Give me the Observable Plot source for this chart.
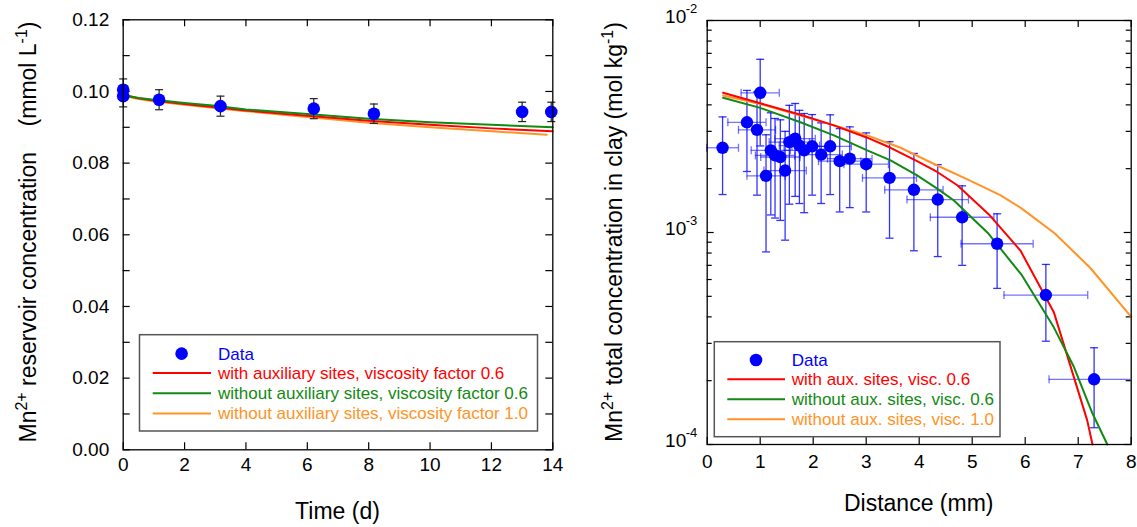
<!DOCTYPE html>
<html><head><meta charset="utf-8">
<script src="https://cdn.jsdelivr.net/npm/d3@7"></script>
<script src="https://cdn.jsdelivr.net/npm/@observablehq/plot@0.6"></script>
<style>
body{margin:0;background:#fff;}
#wrap{position:relative;width:1137px;height:527px;font-family:"Liberation Sans",Arial,Helvetica,sans-serif;}
#wrap svg{position:absolute;top:0;overflow:visible;}
</style></head><body><div id="wrap"></div>
<script>
// ---------- Left panel: reservoir concentration vs time ----------
const timeData = [0, 0, 1.17, 3.17, 6.21, 8.17, 13.0, 13.95];
const resData  = [0.1005, 0.0987, 0.0977, 0.0959, 0.0952, 0.0938, 0.0943, 0.0943];
const resErr   = [0.0030, 0.0030, 0.0028, 0.0028, 0.0028, 0.0027, 0.0027, 0.0027];
const timeModel = [0, 0.5, 1, 2, 3, 4, 6, 8, 10, 12, 14];
const resWithAux06 = [0.0990, 0.0981, 0.0975, 0.0965, 0.0956, 0.0947, 0.0932, 0.0918, 0.0907, 0.0897, 0.0889];
const resNoAux06   = [0.0990, 0.0982, 0.0977, 0.0968, 0.0960, 0.0950, 0.0937, 0.0924, 0.0914, 0.0907, 0.0900];
const timeModelV10 = [0, 0.5, 1, 2, 3, 4, 6, 8, 10, 12, 13.8];
const resNoAux10   = [0.0988, 0.0979, 0.0973, 0.0963, 0.0954, 0.0945, 0.0929, 0.0913, 0.0900, 0.0889, 0.0879];
const xTicksL = [0, 2, 4, 6, 8, 10, 12, 14];
const yTicksL = [0, 0.02, 0.04, 0.06, 0.08, 0.10, 0.12];
const yMinorL = [0.01, 0.03, 0.05, 0.07, 0.09, 0.11];

// ---------- Right panel: concentration in clay vs distance ----------
const distData = [0.29, 0.75, 0.94, 1.0, 1.11, 1.20, 1.28, 1.38, 1.47, 1.55, 1.66, 1.74, 1.83, 1.98, 2.15, 2.32, 2.50, 2.69, 3.0, 3.44, 3.90, 4.35, 4.81, 5.47, 6.39, 7.30];
const concData = [2.51e-3, 3.31e-3, 3.05e-3, 4.56e-3, 1.85e-3, 2.44e-3, 2.31e-3, 2.27e-3, 1.96e-3, 2.67e-3, 2.77e-3, 2.57e-3, 2.44e-3, 2.55e-3, 2.33e-3, 2.55e-3, 2.17e-3, 2.23e-3, 2.10e-3, 1.81e-3, 1.59e-3, 1.43e-3, 1.18e-3, 8.85e-4, 5.07e-4, 2.03e-4];
const concErr  = [1.0e-3, 1.37e-3, 1.55e-3, 2.0e-3, 1.04e-3, 1.23e-3, 1.14e-3, 1.13e-3, 1.04e-3, 1.31e-3, 1.29e-3, 1.2e-3, 1.2e-3, 1.05e-3, 0.96e-3, 1.04e-3, 0.92e-3, 0.92e-3, 0.85e-3, 0.87e-3, 0.77e-3, 0.66e-3, 0.48e-3, 0.34e-3, 0.2e-3, 0.083e-3];
const distErr  = [0.3, 0.36, 0.35, 0.36, 0.36, 0.37, 0.37, 0.37, 0.40, 0.38, 0.38, 0.38, 0.38, 0.38, 0.4, 0.4, 0.4, 0.42, 0.42, 0.51, 0.55, 0.58, 0.6, 0.68, 0.79, 0.85];
const distWithAux06 = [0.3, 1.0, 1.76, 2.39, 3.02, 3.46, 3.96, 4.34, 4.72, 5.31, 5.91, 6.54, 7.17, 7.27];
const concWithAux06 = [4.56e-3, 4.07e-3, 3.59e-3, 3.20e-3, 2.80e-3, 2.51e-3, 2.17e-3, 1.93e-3, 1.67e-3, 1.22e-3, 8.22e-4, 4.21e-4, 1.30e-4, 1.0e-4];
const distNoAux06 = [0.3, 1.0, 1.76, 2.39, 3.02, 3.46, 3.96, 4.34, 4.65, 5.31, 5.94, 6.54, 6.92, 7.27, 7.55];
const concNoAux06 = [4.32e-3, 3.87e-3, 3.31e-3, 2.87e-3, 2.44e-3, 2.19e-3, 1.86e-3, 1.61e-3, 1.42e-3, 9.86e-4, 6.27e-4, 3.57e-4, 2.32e-4, 1.40e-4, 1.0e-4];
const distNoAux10 = [0.3, 1.0, 1.76, 2.51, 3.02, 3.65, 4.27, 4.91, 5.53, 5.93, 6.56, 7.23, 8.0];
const concNoAux10 = [4.43e-3, 4.04e-3, 3.56e-3, 3.14e-3, 2.87e-3, 2.51e-3, 2.11e-3, 1.78e-3, 1.50e-3, 1.30e-3, 9.9e-4, 6.8e-4, 4.0e-4];
const xTicksR = [0, 1, 2, 3, 4, 5, 6, 7, 8];
const yTicksR = [1e-4, 1e-3, 1e-2];
const yTickExp = ["-4", "-3", "-2"];
const yMinorR = [2e-4,3e-4,4e-4,5e-4,6e-4,7e-4,8e-4,9e-4,2e-3,3e-3,4e-3,5e-3,6e-3,7e-3,8e-3,9e-3];

const legendLeft  = ["Data", "with auxiliary sites, viscosity factor 0.6", "without auxiliary sites, viscosity factor 0.6", "without auxiliary sites, viscosity factor 1.0"];
const legendRight = ["Data", "with aux. sites, visc. 0.6", "without aux. sites, visc. 0.6", "without aux. sites, visc. 1.0"];

const BLUE = "#0000ff", RED = "#ff0000", GREEN = "#128a12", ORANGE = "#ff9326";
const FONT = '"Liberation Sans", Arial, Helvetica, sans-serif';

const capH = {draw(ctx, size){ const r = Math.sqrt(size/Math.PI); ctx.moveTo(-r,0); ctx.lineTo(r,0);} };
const capV = {draw(ctx, size){ const r = Math.sqrt(size/Math.PI); ctx.moveTo(0,-r); ctx.lineTo(0,r);} };

const zip2 = (xs, ys) => xs.map((x,i) => ({x, y: ys[i]}));
const resPts = timeData.map((t,i) => ({x: t, y: resData[i], lo: resData[i]-resErr[i], hi: resData[i]+resErr[i]}));
const clayPts = distData.map((d,i) => ({x: d, y: concData[i], lo: concData[i]-concErr[i], hi: concData[i]+concErr[i], xlo: d-distErr[i], xhi: Math.min(8, d+distErr[i])}));

function ticks(frameW, frameH, xs, ys, yMinor, len, minLen){
  return [
    Plot.ruleX(xs, {x: d=>d, insetTop: frameH-len, stroke:"#000", strokeWidth:1.2}),
    Plot.ruleX(xs, {x: d=>d, insetBottom: frameH-len, stroke:"#000", strokeWidth:1.2}),
    Plot.ruleY(ys, {y: d=>d, insetRight: frameW-len, stroke:"#000", strokeWidth:1.2}),
    Plot.ruleY(ys, {y: d=>d, insetLeft: frameW-len, stroke:"#000", strokeWidth:1.2}),
    Plot.ruleY(yMinor, {y: d=>d, insetRight: frameW-minLen, stroke:"#000", strokeWidth:1.2}),
    Plot.ruleY(yMinor, {y: d=>d, insetLeft: frameW-minLen, stroke:"#000", strokeWidth:1.2})
  ];
}

// Left plot geometry
const L = {w: 570, h: 527, ml: 122.7, mr: 17.7, mt: 19.3, mb: 77.7};
const LfW = L.w - L.ml - L.mr, LfH = L.h - L.mt - L.mb;
const left = Plot.plot({
  width: L.w, height: L.h,
  marginLeft: L.ml, marginRight: L.mr, marginTop: L.mt, marginBottom: L.mb,
  x: {domain: [0, 14], axis: null},
  y: {domain: [0, 0.12], axis: null},
  style: {fontFamily: FONT, fontSize: "19px", color: "#000", background: "transparent", overflow: "visible"},
  marks: [
    ...ticks(LfW, LfH, xTicksL, yTicksL, yMinorL, 7, 7),
    Plot.axisX({ticks: xTicksL, tickSize: 0, tickPadding: 8, fontSize: 19, label: null, tickFormat: d => String(d)}),
    Plot.axisY({ticks: yTicksL, tickSize: 0, tickPadding: 14, fontSize: 19, label: null, tickFormat: d => d.toFixed(2)}),
    Plot.line(zip2(timeModelV10, resNoAux10), {x:"x", y:"y", stroke: ORANGE, strokeWidth: 2}),
    Plot.line(zip2(timeModel, resWithAux06), {x:"x", y:"y", stroke: RED, strokeWidth: 2}),
    Plot.line(zip2(timeModel, resNoAux06), {x:"x", y:"y", stroke: GREEN, strokeWidth: 2}),
    Plot.ruleX(resPts, {x:"x", y1:"lo", y2:"hi", stroke:"#222", strokeWidth:1.2}),
    Plot.dot(resPts, {x:"x", y:"lo", symbol: capH, r: 4, stroke:"#222", strokeWidth:1.2, fill:"none"}),
    Plot.dot(resPts, {x:"x", y:"hi", symbol: capH, r: 4, stroke:"#222", strokeWidth:1.2, fill:"none"}),
    Plot.dot(resPts, {x:"x", y:"y", r: 6.3, fill: BLUE, stroke: "none"}),
    Plot.frame({stroke:"#000", strokeWidth: 1.3})
  ]
});

// Right plot geometry
const R = {w: 567, h: 527, ml: 136.7, mr: 6.3, mt: 20, mb: 83};
const RfW = R.w - R.ml - R.mr, RfH = R.h - R.mt - R.mb;
const right = Plot.plot({
  width: R.w, height: R.h,
  marginLeft: R.ml, marginRight: R.mr, marginTop: R.mt, marginBottom: R.mb,
  x: {domain: [0, 8], axis: null},
  y: {type: "log", domain: [1e-4, 1e-2], axis: null},
  style: {fontFamily: FONT, fontSize: "19px", color: "#000", background: "transparent", overflow: "visible"},
  marks: [
    ...ticks(RfW, RfH, xTicksR, yTicksR, yMinorR, 7, 5),
    Plot.axisX({ticks: xTicksR, tickSize: 0, tickPadding: 10, fontSize: 19, label: null, tickFormat: d => String(d)}),
    Plot.text(yTicksR, {y: d=>d, frameAnchor: "left", text: () => "10", textAnchor: "end", dx: -21, dy: -4, fontSize: 19}),
    Plot.text(yTicksR, {y: d=>d, frameAnchor: "left", text: (d,i) => yTickExp[i], textAnchor: "end", dx: -10, dy: -12, fontSize: 13}),
    Plot.ruleY(clayPts, {y:"y", x1:"xlo", x2:"xhi", stroke: BLUE, strokeOpacity: 0.55, strokeWidth: 1.3}),
    Plot.dot(clayPts, {x:"xlo", y:"y", symbol: capV, r: 4, stroke: BLUE, strokeOpacity: 0.55, strokeWidth: 1.3, fill:"none"}),
    Plot.dot(clayPts.filter(d => d.xhi < 8), {x:"xhi", y:"y", symbol: capV, r: 4, stroke: BLUE, strokeOpacity: 0.55, strokeWidth: 1.3, fill:"none"}),
    Plot.ruleX(clayPts, {x:"x", y1:"lo", y2:"hi", stroke: BLUE, strokeOpacity: 0.8, strokeWidth: 1.3}),
    Plot.dot(clayPts, {x:"x", y:"lo", symbol: capH, r: 4, stroke: BLUE, strokeOpacity: 0.8, strokeWidth: 1.3, fill:"none"}),
    Plot.dot(clayPts, {x:"x", y:"hi", symbol: capH, r: 4, stroke: BLUE, strokeOpacity: 0.8, strokeWidth: 1.3, fill:"none"}),
    Plot.line(zip2(distNoAux10, concNoAux10), {x:"x", y:"y", stroke: ORANGE, strokeWidth: 2}),
    Plot.line(zip2(distWithAux06, concWithAux06), {x:"x", y:"y", stroke: RED, strokeWidth: 2}),
    Plot.line(zip2(distNoAux06, concNoAux06), {x:"x", y:"y", stroke: GREEN, strokeWidth: 2}),
    Plot.dot(clayPts, {x:"x", y:"y", r: 6.2, fill: BLUE, stroke: "none"}),
    Plot.frame({stroke:"#000", strokeWidth: 1.3})
  ]
});

const wrap = document.getElementById("wrap");
left.style.left = "0px";
right.style.left = "570px";
wrap.appendChild(left);
wrap.appendChild(right);

function addTitles(svg, xTitle, xCenter, xBase, yParts, yX, yCenter){
  const s = d3.select(svg);
  s.append("text").attr("x", xCenter).attr("y", xBase).attr("text-anchor","middle")
    .attr("font-family", FONT).attr("font-size", 23).attr("fill","#000").text(xTitle);
  const t = s.append("text").attr("transform", `translate(${yX},${yCenter}) rotate(-90)`)
    .attr("text-anchor","middle").attr("font-family", FONT).attr("font-size", 23).attr("fill","#000")
    .style("white-space", "pre");
  yParts.forEach(([txt, sup]) => {
    const ts = t.append("tspan").text(txt);
    if (sup) ts.attr("font-size", 16).attr("dy", -9);
    else ts.attr("dy", ts.node().previousSibling ? 9 : 0);
  });
}
addTitles(left, "Time (d)", L.ml + LfW/2, 519, [["Mn"],["2+",1],[" reservoir concentration    (mmol L"],["-1",1],[")"]], 36.4, 232);
addTitles(right, "Distance (mm)", R.ml + RfW/2, 511, [["Mn"],["2+",1],[" total concentration in clay (mol kg"],["-1",1],[")"]], 52.4, 232);

function addLegend(svg, labels, box, mx, tx, lx1, lx2, rows){
  const s = d3.select(svg).append("g").attr("font-family", FONT).attr("font-size", 17).attr("text-anchor", "start");
  s.append("rect").attr("x", box[0]).attr("y", box[1]).attr("width", box[2]-box[0]).attr("height", box[3]-box[1])
    .attr("fill","#fff").attr("stroke","#555").attr("stroke-width",1.5);
  const cols = [BLUE, RED, GREEN, ORANGE];
  s.append("circle").attr("cx", mx).attr("cy", rows[0]).attr("r", 6.3).attr("fill", BLUE);
  labels.forEach((lab, i) => {
    if (i > 0) s.append("line").attr("x1", lx1).attr("x2", lx2).attr("y1", rows[i]).attr("y2", rows[i]).attr("stroke", cols[i]).attr("stroke-width", 2);
    s.append("text").attr("x", tx).attr("y", rows[i]).attr("dy", "0.35em").attr("text-anchor", "start").attr("fill", cols[i]).text(lab);
  });
}
addLegend(left, legendLeft, [139.5, 334.7, 537.5, 431], 181.6, 218, 152.7, 211, [353.6, 373, 393.3, 413.5]);
addLegend(right, legendRight, [144.3, 341.7, 430, 436.7], 186, 221.7, 157.3, 215, [360, 379.3, 399.3, 419.3]);
</script>
</body></html>
